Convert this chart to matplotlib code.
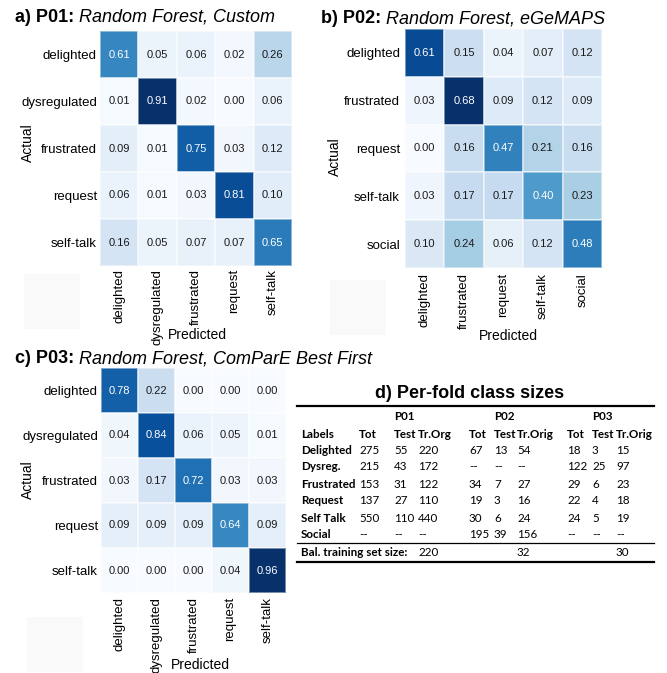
import matplotlib
matplotlib.use("Agg")
import matplotlib.pyplot as plt
import numpy as np
from matplotlib.lines import Line2D
from matplotlib.patches import Rectangle

# ---- confusion matrices (row-normalised) ----
labels_p01 = ["delighted", "dysregulated", "frustrated", "request", "self-talk"]
cm_p01 = [[0.61, 0.05, 0.06, 0.02, 0.26],
          [0.01, 0.91, 0.02, 0.00, 0.06],
          [0.09, 0.01, 0.75, 0.03, 0.12],
          [0.06, 0.01, 0.03, 0.81, 0.10],
          [0.16, 0.05, 0.07, 0.07, 0.65]]

labels_p02 = ["delighted", "frustrated", "request", "self-talk", "social"]
cm_p02 = [[0.61, 0.15, 0.04, 0.07, 0.12],
          [0.03, 0.68, 0.09, 0.12, 0.09],
          [0.00, 0.16, 0.47, 0.21, 0.16],
          [0.03, 0.17, 0.17, 0.40, 0.23],
          [0.10, 0.24, 0.06, 0.12, 0.48]]

labels_p03 = ["delighted", "dysregulated", "frustrated", "request", "self-talk"]
cm_p03 = [[0.78, 0.22, 0.00, 0.00, 0.00],
          [0.04, 0.84, 0.06, 0.05, 0.01],
          [0.03, 0.17, 0.72, 0.03, 0.03],
          [0.09, 0.09, 0.09, 0.64, 0.09],
          [0.00, 0.00, 0.00, 0.04, 0.96]]

# ---- per-fold class sizes ----
table_classes = ["Delighted", "Dysreg.", "Frustrated", "Request", "Self Talk", "Social"]
p01_tot = [275, 215, 153, 137, 550, None]
p01_test = [55, 43, 31, 27, 110, None]
p01_train = [220, 172, 122, 110, 440, None]
p02_tot = [67, None, 34, 19, 30, 195]
p02_test = [13, None, 7, 3, 6, 39]
p02_train = [54, None, 27, 16, 24, 156]
p03_tot = [18, 122, 29, 22, 24, None]
p03_test = [3, 25, 6, 4, 5, None]
p03_train = [15, 97, 23, 18, 19, None]
balanced_sizes = [220, 32, 30]

W, H = 667, 673
fig = plt.figure(figsize=(W / 100, H / 100), dpi=100)
fig.patch.set_facecolor("white")

SANS = ["Liberation Sans", "DejaVu Sans"]


def fx(x):
    return x / W


def fy(y):
    return 1 - y / H


def px_axes(x0, y0, x1, y1):
    return fig.add_axes([fx(x0), fy(y1), (x1 - x0) / W, (y1 - y0) / H])


def heatmap(ax, cm, labels, ypad, xpad):
    data = np.array(cm, dtype=float)
    vmin, vmax = data.min(), data.max()
    n = data.shape[0]
    ax.pcolormesh(np.arange(n + 1), np.arange(n + 1), data, cmap="Blues",
                  vmin=vmin, vmax=vmax, edgecolors=(1, 1, 1, 0.45),
                  linewidth=0.25)
    ax.set_xlim(0, n)
    ax.set_ylim(n, 0)
    for i in range(n):
        for j in range(n):
            v = data[i, j]
            col = "white" if (v - vmin) / (vmax - vmin) > 0.5 else "#1a1a1a"
            ax.text(j + 0.5, i + 0.5, f"{v:.2f}", ha="center", va="center",
                    fontsize=8, color=col, family=SANS)
    ax.set_xticks(np.arange(n) + 0.5)
    ax.set_yticks(np.arange(n) + 0.5)
    ax.set_xticklabels(labels, rotation=90, fontsize=9.5, family=SANS)
    ax.set_yticklabels(labels, fontsize=9.5, family=SANS)
    ax.tick_params(axis="y", length=0, pad=ypad)
    ax.tick_params(axis="x", length=0, pad=xpad)
    for s in ax.spines.values():
        s.set_visible(False)


def panel_title(x, y, tag, rest):
    t = fig.text(fx(x), fy(y), tag, fontsize=13, fontweight="bold",
                 family=SANS, va="baseline", ha="left")
    r = fig.canvas.get_renderer()
    bb = t.get_window_extent(renderer=r)
    x_end = fig.transFigure.inverted().transform((bb.x1, bb.y0))[0]
    fig.text(x_end + 5 / W, fy(y), rest, fontsize=13, style="italic",
             family=SANS, va="baseline", ha="left")


# faint blank squares below each panel
for (x0, y0) in [(24, 274), (330, 280), (27, 617)]:
    fig.add_artist(Rectangle((fx(x0), fy(y0 + 55)), 56 / W, 55 / H,
                             transform=fig.transFigure, facecolor="#f9f9f9",
                             edgecolor="none", zorder=0))

# panel a
ax_a = px_axes(100, 31, 292, 266)
heatmap(ax_a, cm_p01, labels_p01, ypad=2.2, xpad=2.2)
fig.text(fx(28), fy(143), "Actual", rotation=90, ha="center", va="center",
         fontsize=10, family=SANS)
fig.text(fx(197), fy(335), "Predicted", ha="center", va="center",
         fontsize=10, family=SANS)
panel_title(15, 22, "a) P01:", "Random Forest, Custom")

# panel b
ax_b = px_axes(405, 29, 602, 268)
heatmap(ax_b, cm_p02, labels_p02, ypad=3.6, xpad=3.6)
fig.text(fx(335), fy(157), "Actual", rotation=90, ha="center", va="center",
         fontsize=10, family=SANS)
fig.text(fx(508), fy(336), "Predicted", ha="center", va="center",
         fontsize=10, family=SANS)
panel_title(321, 23, "b) P02:", "Random Forest, eGeMAPS")

# panel c
ax_c = px_axes(101, 368, 286, 593)
heatmap(ax_c, cm_p03, labels_p03, ypad=2.2, xpad=3.0)
fig.text(fx(28), fy(480), "Actual", rotation=90, ha="center", va="center",
         fontsize=10, family=SANS)
fig.text(fx(200), fy(665), "Predicted", ha="center", va="center",
         fontsize=10, family=SANS)
panel_title(15, 363, "c) P03:", "Random Forest, ComParE Best First")

# ---- table d ----
TFONT = ["Lato", "DejaVu Sans"]
TS = 8.4
fig.text(fx(470), fy(398), "d) Per-fold class sizes", ha="center",
         va="baseline", fontsize=13, fontweight="bold", family=SANS)


def hline(y, lw):
    fig.add_artist(Line2D([fx(297), fx(654)], [fy(y), fy(y)], lw=lw,
                          color="black", transform=fig.transFigure))


hline(406, 1.6)
hline(543, 0.9)
hline(562, 1.6)

col_x = {"lab": 301,
         "p01": (359, 394, 418),
         "p02": (469, 494, 517),
         "p03": (567, 592, 616)}


def ttext(x, y, s, bold=False):
    fig.text(fx(x), fy(y), s, ha="left", va="center", fontsize=TS,
             family=TFONT, fontweight="bold" if bold else "normal")


# group headers
for key, name in [("p01", "P01"), ("p02", "P02"), ("p03", "P03")]:
    ttext(col_x[key][1], 417, name, bold=True)

ttext(col_x["lab"], 434, "Labels", bold=True)
for key, last in [("p01", "Tr.Org"), ("p02", "Tr.Orig"), ("p03", "Tr.Orig")]:
    for x, s in zip(col_x[key], ["Tot", "Test", last]):
        ttext(x, 434, s, bold=True)

row_y = [451, 467, 484, 501, 518, 535]
groups = [("p01", p01_tot, p01_test, p01_train),
          ("p02", p02_tot, p02_test, p02_train),
          ("p03", p03_tot, p03_test, p03_train)]
for i, cls in enumerate(table_classes):
    y = row_y[i]
    ttext(col_x["lab"], y, cls, bold=True)
    for key, tot, test, train in groups:
        for x, vals in zip(col_x[key], [tot, test, train]):
            v = vals[i]
            ttext(x, y, "--" if v is None else str(v))

ttext(col_x["lab"], 553, "Bal. training set size:", bold=True)
for key, v in zip(["p01", "p02", "p03"], balanced_sizes):
    ttext(col_x[key][2], 553, str(v))

fig.savefig("out.png", dpi=100, facecolor="white")
